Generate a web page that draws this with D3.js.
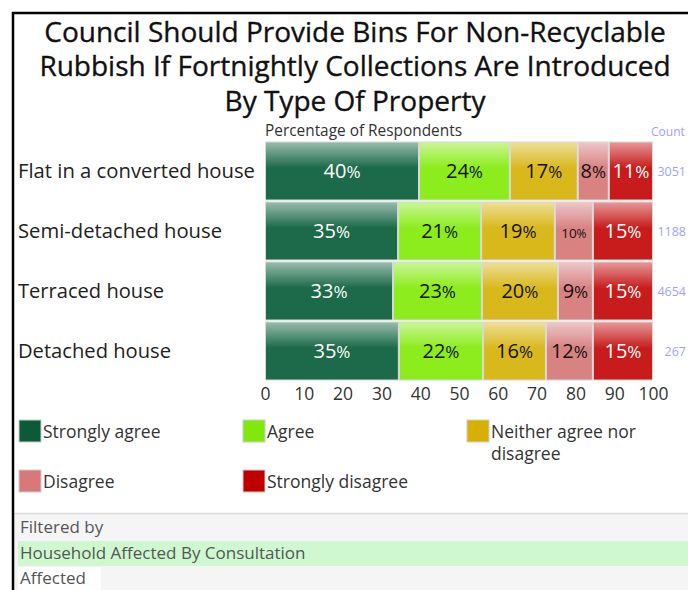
<!DOCTYPE html>
<html><head><meta charset="utf-8">
<script src="https://cdn.jsdelivr.net/npm/d3@7/dist/d3.min.js"></script>
<style>
html,body{margin:0;padding:0;background:#fff;overflow:hidden}
svg{display:block;font-family:"Open Sans","Noto Sans",sans-serif}
</style></head><body>
<svg id="c" width="688" height="590"></svg>
<script>
const titleLines = ["Council Should Provide Bins For Non-Recyclable","Rubbish If Fortnightly Collections Are Introduced","By Type Of Property"];
const categories = ["Flat in a converted house","Semi-detached house","Terraced house","Detached house"];
const seriesNames = ["Strongly agree","Agree","Neither agree nor disagree","Disagree","Strongly disagree"];
const stronglyAgree = [39.7,34.3,33.0,34.5];
const agree = [23.4,21.4,22.9,21.7];
const neither = [17.5,19.0,19.6,16.2];
const disagree = [8.0,9.8,9.0,12.1];
const stronglyDisagree = [11.4,15.5,15.5,15.5];
const valueLabels = [[40,24,17,8,11],[35,21,19,10,15],[33,23,20,9,15],[35,22,16,12,15]];
const counts = ["3051","1188","4654","267"];
const xTicks = [0,10,20,30,40,50,60,70,80,90,100];
const barColors = ["#1c6a4a","#8cec1c","#d9b81c","#d98282","#c81c1c"];
const legendColors = ["#0b5a38","#80e80a","#d8b000","#d87878","#c00000"];
const labelColors = ["#ffffff","#111111","#111111","#111111","#ffffff"];

const series = [stronglyAgree, agree, neither, disagree, stronglyDisagree];
const svg = d3.select("#c");

function fit(sel, maxW){
  sel.each(function(){
    const w = this.getComputedTextLength();
    if (w > maxW) d3.select(this).attr("textLength", maxW).attr("lengthAdjust","spacingAndGlyphs");
  });
}

// frame
svg.append("rect").attr("x",0).attr("y",0).attr("width",688).attr("height",590).attr("fill","#fff");
// footer area
svg.append("rect").attr("x",14).attr("y",514).attr("width",674).attr("height",76).attr("fill","#f5f5f5");
svg.append("line").attr("x1",14).attr("x2",688).attr("y1",513.5).attr("y2",513.5).attr("stroke","#dcdcdc").attr("stroke-width",1.5);
svg.append("rect").attr("x",18).attr("y",541).attr("width",670).attr("height",25).attr("fill","#d0f8d0");
svg.append("rect").attr("x",18).attr("y",567).attr("width",83).attr("height",23).attr("fill","#fff");
svg.append("path").attr("d","M13,590 V13 H688").attr("fill","none").attr("stroke","#000").attr("stroke-width",2.5);

// title
const tw = [632, 645, 317];
titleLines.forEach((t,i)=>{
  svg.append("text").attr("x",355).attr("y",42+i*34.3).attr("text-anchor","middle")
    .attr("font-size",28).attr("fill","#111").attr("stroke","#111").attr("stroke-width",0.35)
    .text(t).call(fit, tw[i]);
});

// scales
const x = d3.scaleLinear().domain([0,100]).range([265,653]);
const y = d3.scaleBand().domain(categories).range([141,381]).paddingInner(0.0);

svg.append("text").attr("x",265).attr("y",136).attr("font-size",15.5).attr("fill","#333").text("Percentage of Respondents").call(fit,197);
svg.append("text").attr("x",651).attr("y",136).attr("font-size",12).attr("fill","#a0a0ff").text("Count");

// gradients
const defs = svg.append("defs");
barColors.forEach((c,i)=>{
  const g = defs.append("linearGradient").attr("id","g"+i).attr("x1",0).attr("x2",0).attr("y1",0).attr("y2",1);
  const light = d3.interpolateRgb(c,"#ffffff")(0.55);
  g.append("stop").attr("offset","0%").attr("stop-color",light);
  g.append("stop").attr("offset","45%").attr("stop-color",c);
  g.append("stop").attr("offset","100%").attr("stop-color",c);
});

// stacked data
const rows = categories.map((cat,ci)=>{
  let acc = 0;
  return series.map((s,si)=>{ const d={cat, si, x0:acc, x1:acc+s[ci], label:valueLabels[ci][si]}; acc+=s[ci]; return d; });
});

const segs = svg.append("g").selectAll("g").data(rows).join("g");
segs.selectAll("rect").data(d=>d).join("rect")
  .attr("x",d=>x(d.x0)+0.5).attr("y",d=>y(d.cat)+1)
  .attr("width",d=>x(d.x1)-x(d.x0)-1).attr("height",y.bandwidth()-2)
  .attr("fill",d=>"url(#g"+d.si+")").attr("stroke","#d8d8d8").attr("stroke-width",1);

const small = d => (x(d.x1)-x(d.x0))<40 && d.label>=10;
segs.selectAll("text").data(d=>d).join("text")
  .attr("x",d=>(x(d.x0)+x(d.x1))/2).attr("y",d=>y(d.cat)+y.bandwidth()/2+7)
  .attr("text-anchor","middle").attr("fill",d=>labelColors[d.si])
  .attr("font-size",d=>small(d) ? 13.5 : 20)
  .each(function(d){
    const t = d3.select(this);
    t.append("tspan").text(d.label);
    t.append("tspan").attr("font-size", small(d) ? 12 : 17).text("%");
  });

// category labels
svg.append("g").selectAll("text").data(categories).join("text")
  .attr("x",18).attr("y",d=>y(d)+y.bandwidth()/2+7).attr("font-size",20.5).attr("fill","#222")
  .text(d=>d).each(function(d,i){ d3.select(this).call(fit, [237,204,146,153][i]); });

// counts
svg.append("g").selectAll("text").data(counts).join("text")
  .attr("x",686).attr("y",(d,i)=>y(categories[i])+y.bandwidth()/2+5).attr("text-anchor","end")
  .attr("font-size",12.5).attr("fill","#9f9fff").text(d=>d);

// axis
const ax = svg.append("g").attr("transform","translate(0,381)")
  .call(d3.axisBottom(x).tickValues(xTicks).tickSize(0).tickPadding(6));
ax.select(".domain").remove();
ax.selectAll("text").attr("font-size",17.5).attr("fill","#333").attr("font-family","'Open Sans',sans-serif").attr("dy","0.75em");

// legend
const legPos = [[19,420],[243,420],[467,420],[19,470],[243,470]];
const leg = svg.append("g").selectAll("g").data(seriesNames).join("g")
  .attr("transform",(d,i)=>`translate(${legPos[i][0]},${legPos[i][1]})`);
leg.append("rect").attr("width",22).attr("height",22).attr("fill",(d,i)=>legendColors[i]).attr("stroke","#ccc").attr("stroke-width",1);
leg.append("text").attr("x",24).attr("y",18).attr("font-size",17.5).attr("fill","#333")
  .each(function(d,i){
    const t=d3.select(this);
    if (i===2){
      t.append("tspan").attr("x",24).text("Neither agree nor");
      t.append("tspan").attr("x",24).attr("dy",22).text("disagree");
    } else t.text(d);
  });

// footer text
svg.append("text").attr("x",20).attr("y",533).attr("font-size",17).attr("fill","#555").text("Filtered by");
svg.append("text").attr("x",20).attr("y",559).attr("font-size",17).attr("fill","#555").text("Household Affected By Consultation").call(fit,308);
svg.append("text").attr("x",20).attr("y",584).attr("font-size",17).attr("fill","#555").text("Affected");
</script></body></html>
